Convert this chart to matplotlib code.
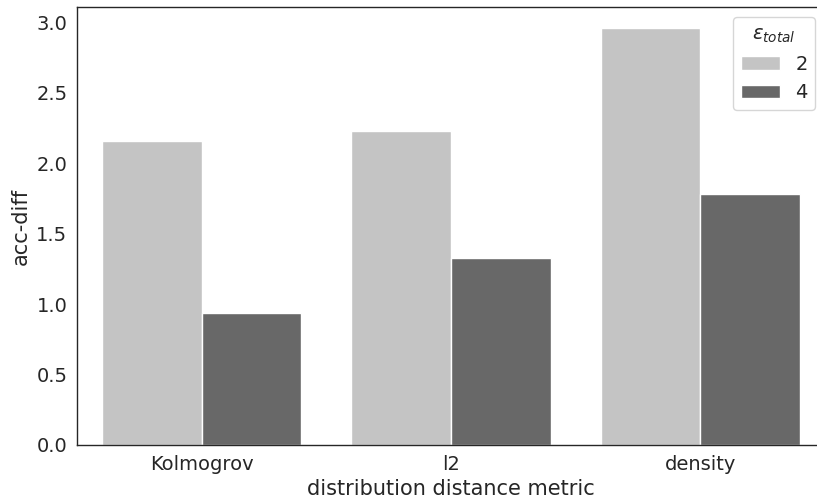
import numpy as np
import matplotlib
matplotlib.use("Agg")
import matplotlib.pyplot as plt
import seaborn as sns

categories = ["Kolmogrov", "l2", "density"]
eps_levels = ["2", "4"]
acc_diff_eps2 = [2.16, 2.23, 2.96]
acc_diff_eps4 = [0.94, 1.33, 1.78]

sns.set_style("white")
colors = ["#c4c4c4", "#686868"]

fig = plt.figure(figsize=(8.17, 5.04), dpi=100)
# the axes run a little past the right edge of the figure, as in the reference
ax = fig.add_axes([77 / 817, 1 - 445 / 504, (825 - 77) / 817, (445 - 7) / 504])

x = np.arange(len(categories))
width = 0.4
for i, (vals, lab) in enumerate(zip([acc_diff_eps2, acc_diff_eps4], eps_levels)):
    ax.bar(x + (i - 0.5) * width, vals, width, color=colors[i], label=lab,
           edgecolor="white", linewidth=1)

ax.set_xlim(-0.5, 2.5)
ax.set_ylim(0, max(acc_diff_eps2) * 1.05)
ax.set_xticks(x)
ax.set_xticklabels(categories)
ax.tick_params(labelsize=14, colors="#262626")
ax.set_xlabel("distribution distance metric", fontsize=15, color="#262626")
ax.set_ylabel("acc-diff", fontsize=15, color="#262626")
for s in ax.spines.values():
    s.set_color("#262626")
    s.set_linewidth(1)
ax.spines["right"].set_visible(False)

ax.legend(title=r"$\epsilon_{total}$", fontsize=14, title_fontsize=14,
          loc="upper right")

fig.savefig("out.png", dpi=100)
